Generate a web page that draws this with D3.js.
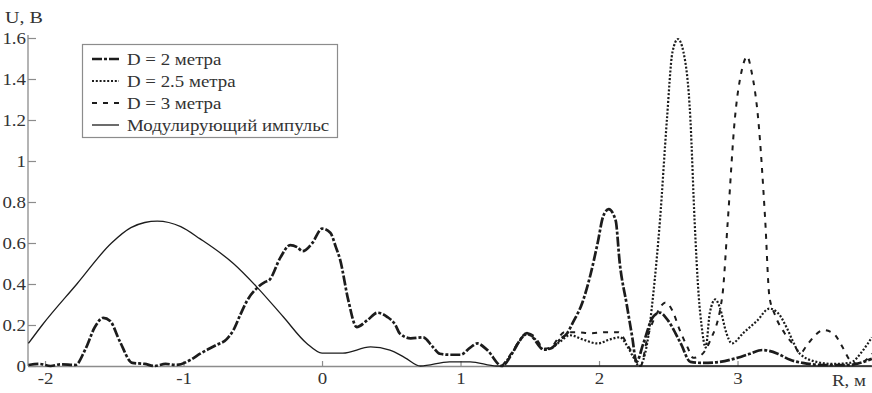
<!DOCTYPE html>
<html>
<head>
<meta charset="utf-8">
<script src="https://cdn.jsdelivr.net/npm/d3@7/dist/d3.min.js"></script>
<style>
  html, body { margin: 0; padding: 0; background: #ffffff; }
  svg { display: block; }
  text { font-family: "Liberation Serif", "Times New Roman", serif; fill: #333; }
</style>
</head>
<body>
<svg id="chart" width="872" height="393"></svg>
<script>
// Axis ticks
const xTicks = [-2, -1, 0, 1, 2, 3];
const xTickLabels = ["-2", "-1", "0", "1", "2", "3"];
const yTicks = [0, 0.2, 0.4, 0.6, 0.8, 1, 1.2, 1.4, 1.6];
const yTickLabels = ["0", "0.2", "0.4", "0.6", "0.8", "1", "1.2", "1.4", "1.6"];

// Series names (legend order)
const seriesNames = ["D = 2 метра", "D = 2.5 метра", "D = 3 метра", "Модулирующий импульс"];

// Signal for D = 2 m: [R, U]
const d2 = [
  [-2.12,0.005],[-2.04,0.01],[-1.96,0],[-1.89,0.008],[-1.78,0.005],[-1.71,0.08],[-1.64,0.19],
  [-1.58,0.235],[-1.53,0.22],[-1.46,0.12],[-1.37,0.015],[-1.28,0.01],[-1.21,0],[-1.13,0.01],
  [-1.05,0.005],[-0.95,0.03],[-0.88,0.06],[-0.77,0.1],[-0.69,0.13],[-0.64,0.175],[-0.59,0.25],
  [-0.54,0.32],[-0.47,0.38],[-0.41,0.41],[-0.38,0.42],[-0.30,0.53],[-0.23,0.59],[-0.18,0.58],
  [-0.14,0.56],[-0.07,0.6],[0,0.67],[0.06,0.65],[0.10,0.58],[0.13,0.52],[0.19,0.32],[0.25,0.19],
  [0.33,0.225],[0.40,0.26],[0.47,0.24],[0.53,0.2],[0.56,0.16],[0.64,0.135],[0.73,0.14],[0.80,0.093],
  [0.85,0.06],[0.92,0.055],[1.0,0.055],[1.07,0.09],[1.12,0.11],[1.19,0.08],[1.30,0],[1.38,0.07],
  [1.43,0.127],[1.48,0.16],[1.52,0.14],[1.60,0.08],[1.65,0.085],[1.72,0.13],[1.77,0.16],[1.81,0.21],
  [1.88,0.31],[1.94,0.45],[1.99,0.6],[2.03,0.73],[2.07,0.765],[2.12,0.71],[2.15,0.5],[2.20,0.3],
  [2.24,0.14],[2.27,0.02],[2.32,0.11],[2.39,0.24],[2.44,0.26],[2.50,0.22],[2.59,0.11],[2.66,0.02],
  [2.75,0.015],[2.87,0.02],[3.0,0.04],[3.09,0.06],[3.18,0.078],[3.29,0.06],[3.38,0.03],[3.47,0.015],
  [3.62,0.005],[3.81,0.005],[3.91,0.02],[3.97,0.035]
];

// Signal for D = 2.5 m: [R, U]
const d25 = [
  [1.30,0],[1.38,0.07],[1.43,0.125],[1.48,0.155],[1.54,0.13],[1.60,0.08],[1.65,0.085],[1.72,0.12],
  [1.79,0.15],[1.88,0.13],[1.99,0.11],[2.08,0.13],[2.15,0.14],[2.21,0.09],[2.25,0.04],[2.29,0],
  [2.35,0.12],[2.39,0.34],[2.44,0.71],[2.49,1.2],[2.53,1.53],[2.57,1.595],[2.61,1.53],[2.66,1.2],
  [2.69,0.71],[2.72,0.34],[2.74,0.2],[2.77,0.09],[2.80,0.26],[2.84,0.325],[2.87,0.29],[2.92,0.16],
  [2.96,0.11],[3.04,0.16],[3.14,0.22],[3.23,0.28],[3.29,0.26],[3.36,0.18],[3.40,0.12],[3.45,0.06],
  [3.57,0.02],[3.69,0.01],[3.81,0.015],[3.91,0.08],[3.97,0.14]
];

// Signal for D = 3 m: [R, U]
const d3m = [
  [1.30,0],[1.38,0.075],[1.43,0.13],[1.48,0.16],[1.54,0.14],[1.60,0.085],[1.65,0.09],[1.70,0.13],
  [1.75,0.165],[1.84,0.165],[1.94,0.16],[2.06,0.165],[2.14,0.165],[2.20,0.11],[2.25,0.05],[2.30,0],
  [2.35,0.14],[2.42,0.26],[2.48,0.31],[2.53,0.27],[2.58,0.18],[2.64,0.09],[2.68,0.04],[2.73,0.05],
  [2.80,0.12],[2.89,0.34],[2.93,0.71],[2.98,1.2],[3.03,1.44],[3.07,1.51],[3.10,1.44],[3.15,1.2],
  [3.20,0.71],[3.23,0.34],[3.27,0.25],[3.34,0.16],[3.42,0.09],[3.45,0.06],[3.50,0.1],[3.56,0.15],
  [3.62,0.175],[3.69,0.16],[3.76,0.09],[3.81,0.03],[3.87,0.01],[3.93,0.03],[3.97,0.06]
];

// Modulating pulse: [R, U]
const pulse = [
  [-2.12,0.11],[-2.02,0.2],[-1.77,0.4],[-1.52,0.6],[-1.38,0.675],[-1.28,0.7],[-1.19,0.707],
  [-1.02,0.68],[-0.88,0.62],[-0.64,0.50],[-0.47,0.385],[-0.28,0.24],[-0.11,0.11],[0,0.063],
  [0.15,0.063],[0.35,0.093],[0.49,0.078],[0.60,0.04],[0.71,0],[0.92,0.02],[1.07,0.02],[1.26,0],
  [2.0,0],[3.0,0],[3.97,0]
];

const seriesData = [d2, d25, d3m, pulse];
const seriesStyle = [
  { width: 2.7, dash: "10,2,3,2" },
  { width: 2.2, dash: "2,1.8" },
  { width: 2.0, dash: "5,6" },
  { width: 1.3, dash: null }
];

const ink = "#1c1c1c";
const axisGray = "#8c8c8c";
const stretch = 1.18; // the typeface is set slightly wide

const svg = d3.select("#chart");

const x = d3.scaleLinear().domain([-2.123, 3.971]).range([28, 872]);
const y = d3.scaleLinear().domain([0, 1.6]).range([366, 38]);

// helper: widen a text element horizontally around its anchor
function widen(sel) {
  sel.each(function () {
    const t = d3.select(this);
    const tx = +t.attr("x") || 0;
    t.attr("x", tx / stretch).attr("transform", `scale(${stretch},1)`);
  });
}

// Y axis
const yAxis = d3.axisLeft(y)
  .tickValues(yTicks)
  .tickFormat((d, i) => yTickLabels[i])
  .tickSizeInner(-8)
  .tickSizeOuter(0)
  .tickPadding(2);
const gy = svg.append("g").attr("transform", `translate(${x.range()[0]},0)`).call(yAxis);
gy.select(".domain").attr("stroke", axisGray).attr("stroke-width", 1.3)
  .attr("d", `M0,${y(0)}V35`);
gy.selectAll(".tick line").attr("stroke", axisGray).attr("stroke-width", 1.2);
gy.selectAll(".tick text").attr("font-size", 16).attr("fill", "#333")
  .attr("font-family", "Liberation Serif, serif").call(widen);

// X axis
const xAxis = d3.axisBottom(x)
  .tickValues(xTicks)
  .tickFormat((d, i) => xTickLabels[i])
  .tickSizeInner(-5)
  .tickSizeOuter(0)
  .tickPadding(7);
const gx = svg.append("g").attr("transform", `translate(0,${y(0)})`).call(xAxis);
gx.select(".domain").attr("stroke", axisGray).attr("stroke-width", 1.5);
gx.selectAll(".tick line").attr("stroke", axisGray).attr("stroke-width", 1.2);
gx.selectAll(".tick text").attr("font-size", 16).attr("fill", "#333")
  .attr("font-family", "Liberation Serif, serif").call(widen);

// Axis titles
svg.append("text").attr("x", 5).attr("y", 23).attr("font-size", 17)
  .text("U, В").call(widen);
svg.append("text").attr("x", 832).attr("y", 386).attr("font-size", 16)
  .text("R, м").call(widen);

// Curves
const line = d3.line()
  .x(d => x(d[0]))
  .y(d => y(d[1]))
  .curve(d3.curveMonotoneX);

const plot = svg.append("g");
// draw the pulse first, then the signals on top
[3, 0, 1, 2].forEach(i => {
  const p = plot.append("path")
    .datum(seriesData[i])
    .attr("d", line)
    .attr("fill", "none")
    .attr("stroke", ink)
    .attr("stroke-width", seriesStyle[i].width)
    .attr("stroke-linejoin", "round");
  if (seriesStyle[i].dash) p.attr("stroke-dasharray", seriesStyle[i].dash);
});

// Legend
const lg = svg.append("g");
lg.append("rect")
  .attr("x", 82.5).attr("y", 44.5).attr("width", 255).attr("height", 93)
  .attr("fill", "#ffffff").attr("stroke", axisGray).attr("stroke-width", 1.2);
seriesNames.forEach((name, i) => {
  const cy = 59 + i * 22;
  const s = lg.append("line")
    .attr("x1", 92).attr("x2", 119).attr("y1", cy).attr("y2", cy)
    .attr("stroke", ink).attr("stroke-width", seriesStyle[i].width);
  if (seriesStyle[i].dash) s.attr("stroke-dasharray", seriesStyle[i].dash);
  lg.append("text").attr("x", 127).attr("y", cy + 6.5).attr("font-size", 16)
    .text(name).call(widen);
});
</script>
</body>
</html>
